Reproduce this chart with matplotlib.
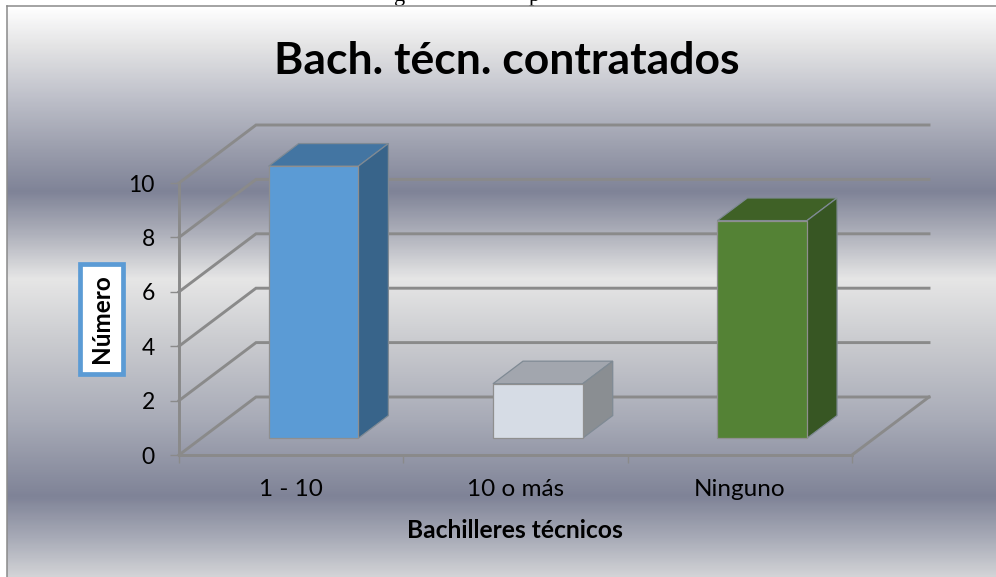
import numpy as np
import matplotlib
matplotlib.use("Agg")
import matplotlib.pyplot as plt
from matplotlib.colors import LinearSegmentedColormap
from matplotlib.patches import Polygon

categories = ["1 - 10", "10 o más", "Ninguno"]
values = [10, 2, 8]
y_ticks = [0, 2, 4, 6, 8, 10]
title = "Bach. técn. contratados"
x_title = "Bachilleres técnicos"
y_title = "Número"

front_colors = ["#5b9bd5", "#d6dce5", "#548235"]
top_colors = ["#4375a2", "#a2a6ae", "#3f6126"]
side_colors = ["#38648a", "#8a8e92", "#375623"]

W, H = 996, 577
plt.rcParams["font.family"] = ["Lato", "DejaVu Sans"]
fig = plt.figure(figsize=(W / 100, H / 100), dpi=100, facecolor="white")


def fx(px):
    return px / W


def fy(py):
    return 1 - py / H


# clipped caption glyphs above the chart frame
for ch, px in [("g", 400), ("p", 534)]:
    fig.text(fx(px), fy(1), ch, family="Liberation Serif", fontsize=16,
             ha="center", va="baseline", color="black", zorder=0)

# background gradient
bg = fig.add_axes([fx(7), 0, 1 - fx(7), fy(6)], zorder=1)
stops = [(6, "#ffffff"), (45, "#e4e4e5"), (100, "#bcbec8"), (150, "#9a9dac"),
         (191, "#7f8397"), (235, "#b0b2bc"), (279, "#e6e6e6"), (340, "#cbccd0"),
         (420, "#a8abb7"), (497, "#7f8397"), (540, "#a9acb8"), (577, "#d2d3d6")]
cmap = LinearSegmentedColormap.from_list(
    "bg", [((p - 6) / (577 - 6), c) for p, c in stops], N=512)
bg.imshow(np.linspace(0, 1, 571)[:, None], aspect="auto", cmap=cmap, vmin=0, vmax=1)
bg.set_xticks([])
bg.set_yticks([])
for s in bg.spines.values():
    s.set_visible(False)
bg.spines["left"].set_visible(True)
bg.spines["top"].set_visible(True)
bg.spines["left"].set_color("#8a8a8a")
bg.spines["top"].set_color("#8a8a8a")
bg.spines["left"].set_linewidth(1.1)
bg.spines["top"].set_linewidth(1.1)

# main axes = front plane of the oblique 3-D box
L, R, T, B = 179, 852, 183, 455
ax = fig.add_axes([fx(L), fy(B), (R - L) / W, (B - T) / H], zorder=2)
ax.patch.set_alpha(0)
ax.set_xlim(0, len(categories))
ax.set_ylim(0, max(y_ticks))
ux = (R - L) / len(categories)
uy = (B - T) / max(y_ticks)
DX, DY = 77 / ux, 58 / uy   # full depth in data units

GRID = "#8a8a8a"
for v in y_ticks:
    ax.plot([0, DX, len(categories) + DX], [v, v + DY, v + DY], color=GRID,
            lw=2.1, clip_on=False, zorder=1, solid_joinstyle="miter")
ax.plot([len(categories), len(categories) + DX], [0, DY], color=GRID, lw=2.1,
        clip_on=False, zorder=1)

# bars
f0, f1 = 0.29, 0.68
width = 0.40
for i, (v, fc, tc, sc) in enumerate(zip(values, front_colors, top_colors, side_colors)):
    xc = i + 0.5 + f0 * DX
    base = f0 * DY
    x0, x1 = xc - width / 2, xc + width / 2
    ddx, ddy = (f1 - f0) * DX, (f1 - f0) * DY
    ax.bar(xc, v, width=width, bottom=base, color=fc, edgecolor="#8f8f8f", lw=0.9,
           zorder=4, clip_on=False)
    ax.add_patch(Polygon([(x0, base + v), (x1, base + v), (x1 + ddx, base + v + ddy),
                          (x0 + ddx, base + v + ddy)], closed=True, facecolor=tc,
                         edgecolor="#7f8a94", lw=0.9, zorder=3, clip_on=False))
    ax.add_patch(Polygon([(x1, base), (x1 + ddx, base + ddy), (x1 + ddx, base + v + ddy),
                          (x1, base + v)], closed=True, facecolor=sc,
                         edgecolor="#7f8a94", lw=0.9, zorder=3, clip_on=False))

# axes
for s in ("top", "right"):
    ax.spines[s].set_visible(False)
for s in ("left", "bottom"):
    ax.spines[s].set_color(GRID)
    ax.spines[s].set_linewidth(2.1)
ax.set_yticks(y_ticks)
ax.set_xticks(range(len(categories) + 1))
ax.set_xticklabels([])
ax.set_xticks(np.arange(len(categories)) + 0.5, minor=True)
ax.set_xticklabels(categories, minor=True)
ax.tick_params(axis="y", length=6.5, width=1, color=GRID, pad=11, labelsize=16.5)
ax.tick_params(axis="x", which="major", length=6, width=1, color=GRID)
ax.tick_params(axis="x", which="minor", length=0, pad=17.5, labelsize=17.5)

fig.suptitle(title, x=fx(507), y=fy(60.5), ha="center", va="center",
             fontsize=32, fontweight="bold", color="black", zorder=5)
ax.set_xlabel(x_title, fontsize=17.7, fontweight="bold", va="center")
ax.xaxis.set_label_coords((515 - L) / (R - L), (B - 531) / (B - T))
ax.set_ylabel(y_title, fontsize=17.5, fontweight="bold", va="center", ha="center",
              bbox=dict(boxstyle="square,pad=0.42", facecolor="white",
                        edgecolor="#5b9bd5", lw=3.4))
ax.yaxis.set_label_coords((101.5 - L) / (R - L), (B - 319) / (B - T))

fig.savefig("out.png", dpi=100)
